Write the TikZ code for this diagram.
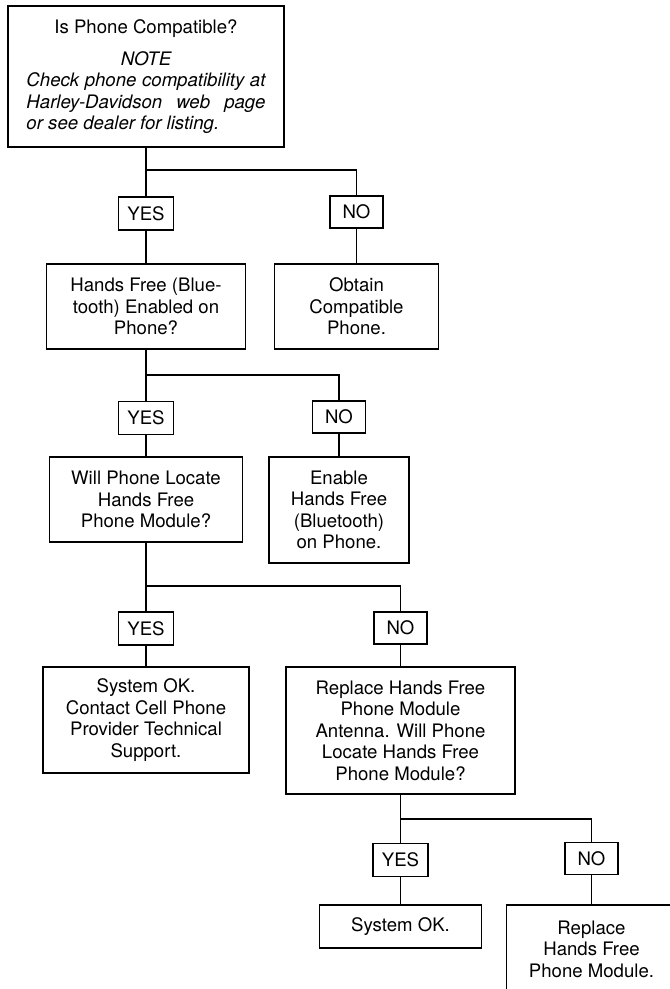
\documentclass[tikz,border=0pt]{standalone}
\usepackage{fontspec}
\setmainfont{TeX Gyre Heros}

\begin{document}
\begin{tikzpicture}[x=1pt, y=-1pt, line width=1.1pt,
  box/.style={draw, rectangle, align=center, inner sep=0pt,
    font=\fontsize{18.6}{21.5}\selectfont},
  answer/.style={box, minimum width=55pt, minimum height=33pt}]
\useasboundingbox (0,0) rectangle (670,989);

\node[box, minimum width=276pt, minimum height=141pt] (compat) at (146,76.5)
  {Is Phone Compatible?\\[10.5pt]
   \itshape NOTE\\
   \itshape\makebox[239pt][s]{Check phone compatibility at}\\
   \itshape\makebox[239pt][s]{Harley-Davidson web page}\\
   \itshape\makebox[239pt][l]{or see dealer for listing.}};
\node[answer] (yes1) at (146,213.5) {YES};
\node[answer, minimum width=53pt, minimum height=32pt] (no1) at (356.5,212) {NO};
\node[box, minimum width=199pt, minimum height=85pt] (bt) at (146,306.5)
  {Hands Free (Blue-\\tooth) Enabled on\\Phone?};
\node[box, minimum width=164pt, minimum height=85pt] (obtain) at (356.5,306.5)
  {Obtain\\Compatible\\Phone.};

\node[answer] (yes2) at (146,418) {YES};
\node[answer, minimum width=53pt, minimum height=32pt] (no2) at (339,417) {NO};
\node[box, minimum width=193pt, minimum height=85pt] (locate) at (146,499.5)
  {Will Phone Locate\\Hands Free\\Phone Module?};
\node[box, minimum width=140pt, minimum height=106pt] (enable) at (339,510)
  {Enable\\Hands Free\\(Bluetooth)\\on Phone.};

\node[answer] (yes3) at (146,628.5) {YES};
\node[answer, minimum width=53pt, minimum height=32pt] (no3) at (400.5,628) {NO};
\node[box, minimum width=206pt, minimum height=106pt] (ok1) at (146,720)
  {System OK.\\Contact Cell Phone\\Provider Technical\\Support.};
\node[box, minimum width=229pt, minimum height=127pt] (antenna) at (400.5,730.5)
  {Replace Hands Free\\Phone Module\\Antenna. Will Phone\\Locate Hands Free\\Phone Module?};

\node[answer] (yes4) at (400.5,860) {YES};
\node[answer, minimum width=53pt, minimum height=32pt] (no4) at (591.5,858.5) {NO};
\node[box, minimum width=162pt, minimum height=43pt] (ok2) at (400.5,926.5) {System OK.};
\node[box, minimum width=170pt, minimum height=88pt] (module) at (591.5,949)
  {Replace\\Hands Free\\Phone Module.};

\coordinate (j1) at (146,170);
\coordinate (j2) at (146,375);
\coordinate (j3) at (146,586);
\coordinate (j4) at (400.5,819);

\draw (compat) -- (yes1) -- (bt);
\draw (no1) |- (j1);
\draw (no1) -- (obtain);
\draw (bt) -- (yes2) -- (locate);
\draw (no2) |- (j2);
\draw (no2) -- (enable);
\draw (locate) -- (yes3) -- (ok1);
\draw (no3) |- (j3);
\draw (no3) -- (antenna);
\draw (antenna) -- (yes4) -- (ok2);
\draw (no4) |- (j4);
\draw (no4) -- (module);
\end{tikzpicture}
\end{document}
